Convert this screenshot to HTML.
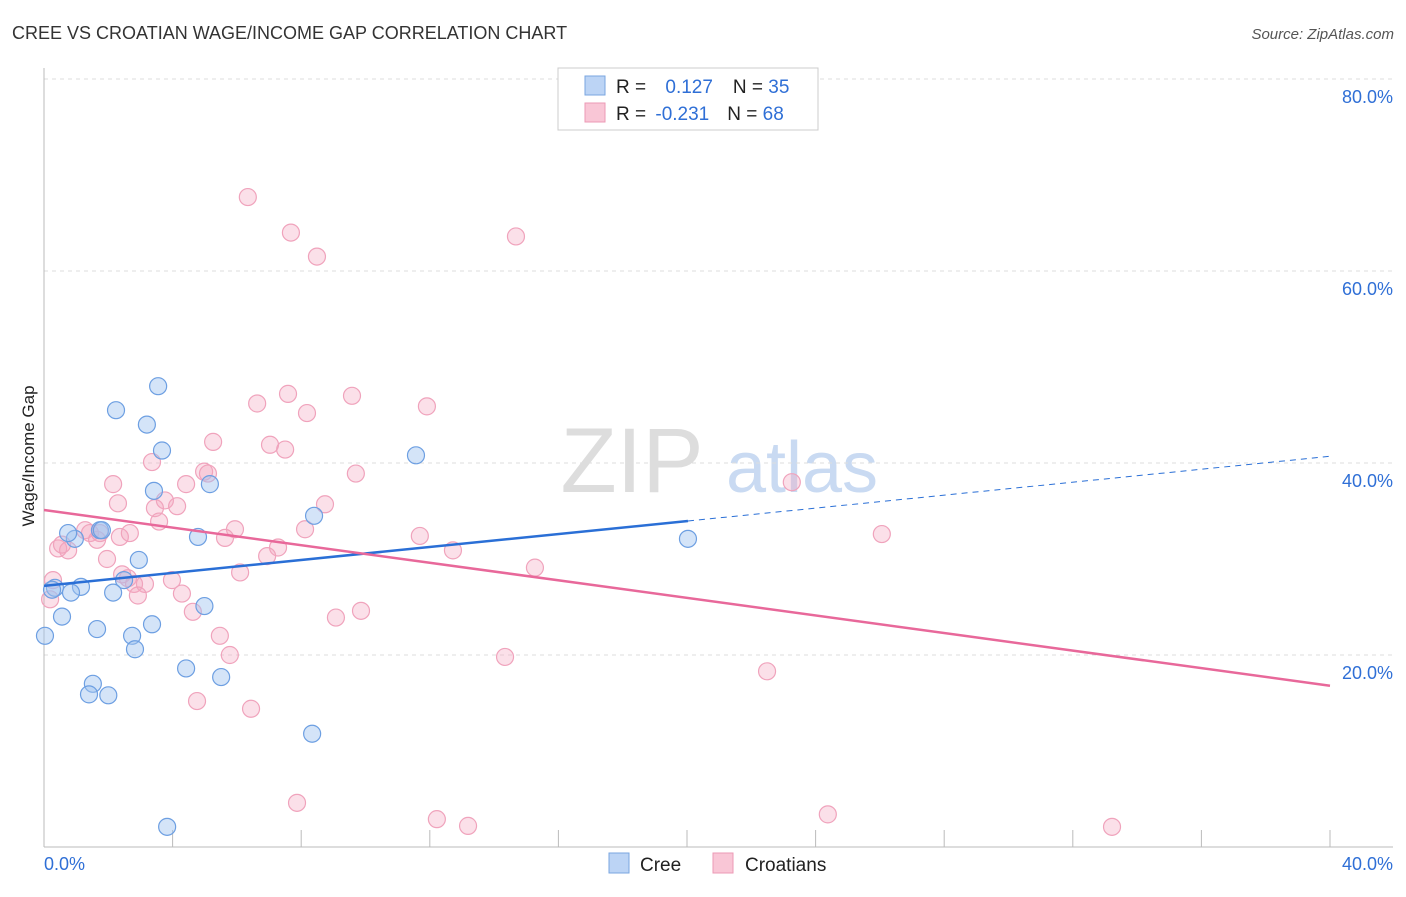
<!DOCTYPE html>
<html><head><meta charset="utf-8"><style>
body{margin:0;background:#fff;font-family:"Liberation Sans",sans-serif;}
svg text{font-family:"Liberation Sans",sans-serif;}
</style></head><body>
<svg id="c" width="1406" height="892" xmlns="http://www.w3.org/2000/svg">
<text x="12" y="39" font-size="18" fill="#333">CREE VS CROATIAN WAGE/INCOME GAP CORRELATION CHART</text>
<text x="1394" y="39" font-size="15" fill="#555" text-anchor="end" font-style="italic">Source: ZipAtlas.com</text>
<text x="632" y="492" font-size="92" fill="#ddd" font-family="Liberation Serif" text-anchor="middle">ZIP</text>
<text x="802" y="492" font-size="72" fill="#c9daf2" text-anchor="middle">atlas</text>
<text transform="translate(34,456) rotate(-90)" font-size="17" fill="#222" text-anchor="middle">Wage/Income Gap</text>
<g id="grid"></g><g id="marks"></g>
<rect x="558" y="68" width="260" height="62" fill="#fff" stroke="#ccc"/>
<rect x="585" y="76" width="20" height="19" fill="#bcd4f5" stroke="#7aa6e0"/>
<rect x="585" y="103" width="20" height="19" fill="#f9c6d6" stroke="#ec9ab5"/>
<text x="616" y="93" font-size="19" fill="#222">R =  <tspan fill="#2f6fd6" dx="14">0.127</tspan><tspan dx="20" fill="#222">N = </tspan><tspan fill="#2f6fd6">35</tspan></text>
<text x="616" y="120" font-size="19" fill="#222">R = <tspan fill="#2f6fd6" dx="4">-0.231</tspan><tspan dx="18" fill="#222">N = </tspan><tspan fill="#2f6fd6">68</tspan></text>
<rect x="609" y="853" width="20" height="20" fill="#bcd4f5" stroke="#7aa6e0"/>
<text x="640" y="871" font-size="19" fill="#222">Cree</text>
<rect x="713" y="853" width="20" height="20" fill="#f9c6d6" stroke="#ec9ab5"/>
<text x="745" y="871" font-size="19" fill="#222">Croatians</text>
</svg>
<script>
const yTicks=[80,60,40,20];
const yTickLabels=["80.0%","60.0%","40.0%","20.0%"];
const xTickLabels=["0.0%","40.0%"];
const creeX=[3.55,2.24,3.2,3.67,11.57,3.42,5.16,8.4,4.79,0.96,1.74,0.75,1.8,2.95,2.49,0.34,1.15,2.15,0.84,4.99,0.56,1.65,3.36,2.74,2.83,0.03,4.42,1.52,5.51,1.4,2.0,8.34,3.83,20.03,0.25];
const creeY=[48.0,45.5,44.0,41.3,40.8,37.1,37.8,34.5,32.3,32.1,33.0,32.7,33.0,29.9,27.8,27.0,27.1,26.5,26.5,25.1,24.0,22.7,23.2,22.0,20.6,22.0,18.6,17.0,17.7,15.9,15.8,11.8,2.1,32.1,26.8];
const croX=[6.34,7.68,8.49,14.68,7.59,9.58,6.63,8.18,11.91,5.26,7.03,7.5,3.36,4.98,5.1,9.7,2.15,4.42,23.26,2.3,3.76,3.45,4.14,8.74,3.58,5.94,5.63,8.12,11.69,26.06,1.28,1.43,2.36,1.65,2.67,0.44,0.75,7.28,6.94,1.96,12.72,15.27,6.1,2.43,2.61,3.14,2.8,3.98,2.92,4.29,0.28,4.63,9.08,9.86,5.47,5.78,14.34,22.49,4.76,6.44,7.87,12.22,13.19,24.38,33.22,0.19,0.56,1.74];
const croY=[67.7,64.0,61.5,63.6,47.2,47.0,46.2,45.2,45.9,42.2,41.9,41.4,40.1,39.1,38.9,38.9,37.8,37.8,38.0,35.8,36.1,35.3,35.5,35.7,33.9,33.1,32.2,33.1,32.4,32.6,33.0,32.7,32.3,32.0,32.7,31.1,30.9,31.2,30.3,30.0,30.9,29.1,28.6,28.4,28.0,27.4,27.4,27.8,26.2,26.4,27.8,24.5,23.9,24.6,22.0,20.0,19.8,18.3,15.2,14.4,4.6,2.9,2.2,3.4,2.1,25.8,31.5,32.7];
const creeTrend=[27.2,40.7];
const croTrend=[35.1,16.8];
const creeSolidEnd=20.03;
const NS="http://www.w3.org/2000/svg";
const X=v=>44+v*32.15, Y=v=>847-v*9.6;
const grid=document.getElementById('grid'), marks=document.getElementById('marks');
function mk(tag,attrs,parent){const e=document.createElementNS(NS,tag);for(const k in attrs)e.setAttribute(k,attrs[k]);parent.appendChild(e);return e;}
yTicks.forEach((t,i)=>{
 const l=mk('line',{x1:44,x2:1393,y1:Y(t),y2:Y(t),stroke:'#ddd','stroke-dasharray':'4,4'},grid);
 
 
 const tx=mk('text',{x:1393,y:Y(t)+24,'font-size':18,fill:'#2f6fd6','text-anchor':'end'},grid);
 tx.textContent=yTickLabels[i];
 
 
});
const ax=mk('line',{x1:44,x2:44,y1:68,y2:847,stroke:'#bbb'},grid);


const bx=mk('line',{x1:44,x2:1393,y1:847,y2:847,stroke:'#bbb'},grid);


for(let i=1;i<=10;i++){
 const t=mk('line',{x1:X(i*4),x2:X(i*4),y1:830,y2:847,stroke:'#bbb'},grid);
 
 
}
[[0,'start',44],[1,'end',1393]].forEach(([i,a,x])=>{
 const t=mk('text',{x:x,y:870,'font-size':18,fill:'#2f6fd6','text-anchor':a},grid);
 t.textContent=xTickLabels[i];
 
 
});
croX.forEach((x,i)=>{
 const c=mk('circle',{cx:X(x),cy:Y(croY[i]),r:8.5,fill:'rgba(244,165,192,0.35)',stroke:'#f0a3bc','stroke-width':1.2},marks);
 
 
});
creeX.forEach((x,i)=>{
 const c=mk('circle',{cx:X(x),cy:Y(creeY[i]),r:8.5,fill:'rgba(160,195,240,0.45)',stroke:'#6d9fe2','stroke-width':1.2},marks);
 
 
});
const lin=(tr,v)=>tr[0]+(tr[1]-tr[0])*v/40;
const b1=mk('line',{x1:X(0),y1:Y(lin(creeTrend,0)),x2:X(creeSolidEnd),y2:Y(lin(creeTrend,creeSolidEnd)),stroke:'#2a6fd6','stroke-width':2.5},marks);


const b2=mk('line',{x1:X(creeSolidEnd),y1:Y(lin(creeTrend,creeSolidEnd)),x2:X(40),y2:Y(lin(creeTrend,40)),stroke:'#2a6fd6','stroke-width':1,'stroke-dasharray':'6,5'},marks);


const p1=mk('line',{x1:X(0),y1:Y(croTrend[0]),x2:X(40),y2:Y(croTrend[1]),stroke:'#e8689a','stroke-width':2.5},marks);


</script>
</body></html>
